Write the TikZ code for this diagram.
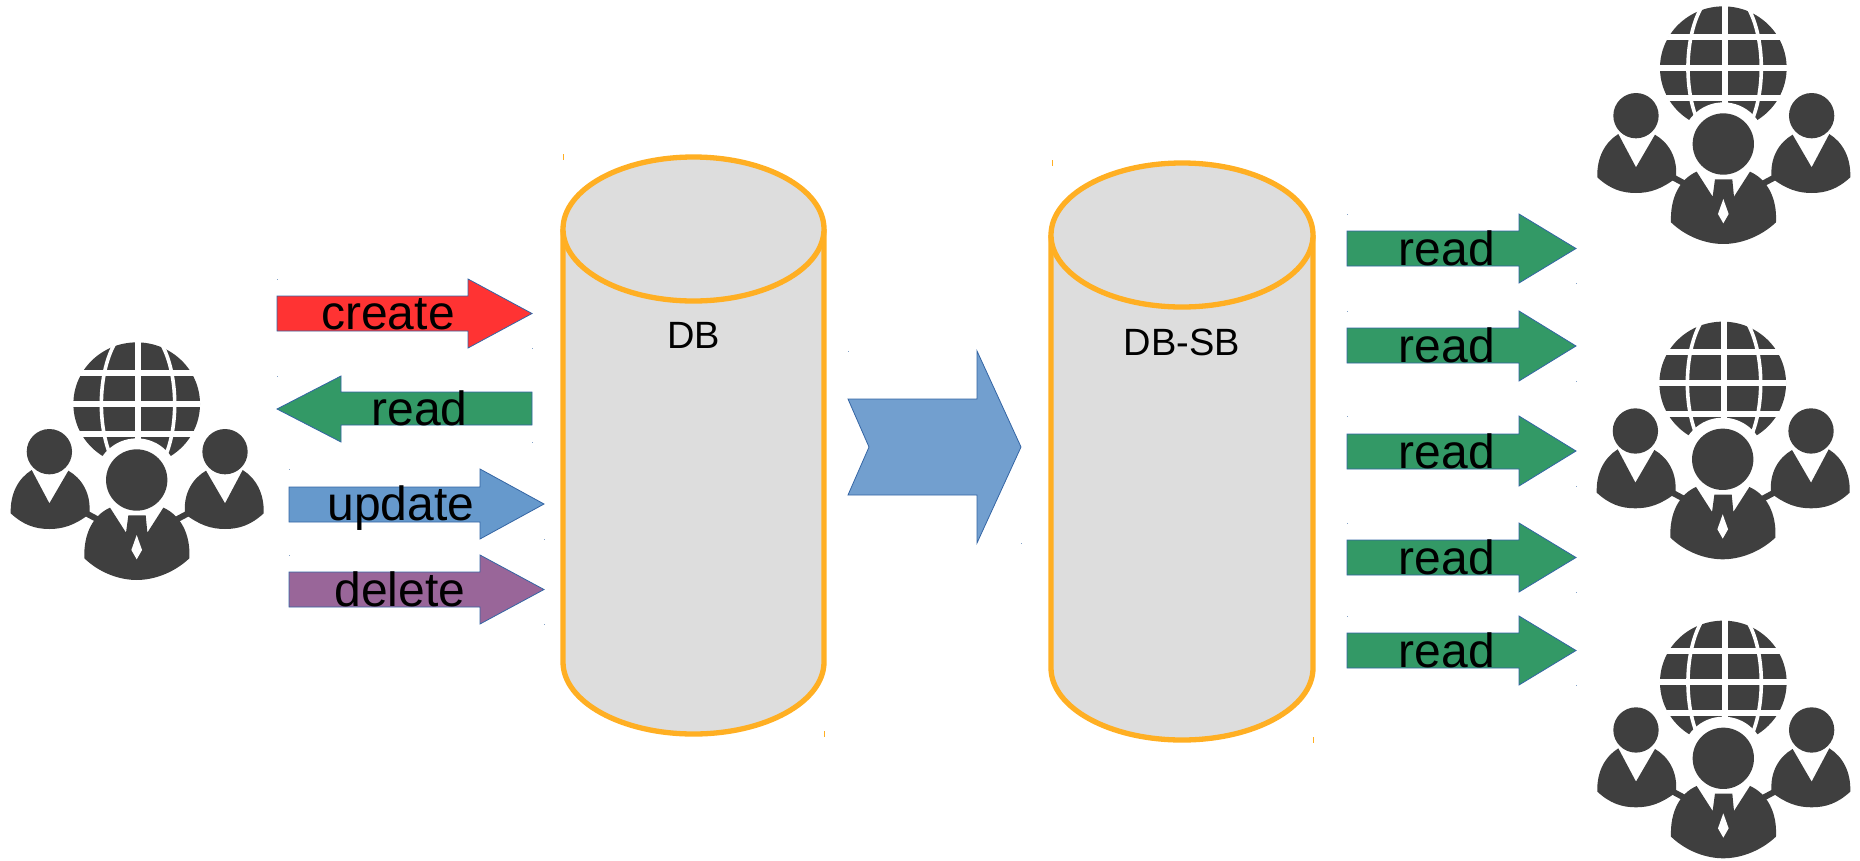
\documentclass[tikz,border=0pt]{standalone}
\usepackage{fontspec}
\setmainfont{Liberation Sans}
\definecolor{cred}{HTML}{FF3333}
\definecolor{cgreen}{HTML}{339966}
\definecolor{cblue}{HTML}{6699CC}
\definecolor{cpurple}{HTML}{996699}
\definecolor{cchev}{HTML}{729FCF}
\definecolor{cline}{HTML}{3465A4}
\definecolor{corange}{HTML}{FFAF23}
\definecolor{cgray}{HTML}{DDDDDD}
\definecolor{cdark}{HTML}{3F3F3F}
\tikzset{
  arrowshape/.style={draw=cline,line width=.8pt,line join=miter},
  arrowlabel/.style={anchor=base,inner sep=0pt,font=\fontsize{48}{50}\selectfont,text=black},
  dblabel/.style={anchor=center,inner sep=0pt,font=\fontsize{38}{40}\selectfont,text=black},
  cylbody/.style={fill=cgray,draw=corange,line width=5.3pt},
  speck/.style={fill=cline,fill opacity=.6},
  ospeck/.style={fill=corange},
  darkfill/.style={fill=cdark,draw=none}
}
% right-pointing arrow: x0 xh x1 headtop shafttop shaftbot headbot colour
\newcommand\rarr[8]{%
  \draw[arrowshape,fill=#8] (#1,#5) -- (#2,#5) -- (#2,#4) -- (#3,{(#4+#7)/2}) -- (#2,#7) -- (#2,#6) -- (#1,#6) -- cycle;
  \fill[speck] (#1-.5,#4-.5) rectangle (#1+.5,#4+.5);
  \fill[speck] (#3-.5,#7-.5) rectangle (#3+.5,#7+.5);
}
\newcommand\sideperson{%
  \fill[darkfill] (148,365) circle[radius=68];
  \fill[darkfill] (95,420) -- (148,520) -- (205,422) .. controls (245,445) and (274,490) .. (268,552)
     .. controls (225,585) and (190,597) .. (148,597) .. controls (105,597) and (70,585) .. (32,550)
     .. controls (30,490) and (55,445) .. (95,420) -- cycle;
  \draw[cdark,line width=6pt] (255,548) -- (300,572);
}
\newcommand\usericon[2]{%
  \begin{scope}[shift={(#1,#2)},x=.3333pt,y=-.3333pt]
    \begin{scope}[shift={(-410,-450)}]
      \fill[darkfill] (410,222) ellipse[x radius=190,y radius=185];
      \begin{scope}
        \clip (410,222) ellipse[x radius=192,y radius=187];
        \draw[white,line width=6pt] (200,128) -- (620,128) (200,220.5) -- (620,220.5) (200,313) -- (620,313) (414,0) -- (414,420);
        \draw[white,line width=3.6pt] (414,222) ellipse[x radius=110,y radius=235];
      \end{scope}
      \fill[white] (410,450) circle[radius=125];
      \sideperson
    \end{scope}
    \begin{scope}[shift={(413,-450)},xscale=-1]
      \sideperson
    \end{scope}
    \begin{scope}[shift={(-410,-450)}]
      \fill[darkfill] (330,533) -- (378,608) -- (385,556) -- (437,556) -- (442,608) -- (490,533)
        .. controls (540,555) and (572,610) .. (568,685) .. controls (520,730) and (460,750) .. (410,750)
        .. controls (360,750) and (300,730) .. (253,685) .. controls (250,610) and (280,555) .. (330,533) -- cycle;
      \fill[white] (410,615) -- (426,660) -- (410,688) -- (394,660) -- cycle;
      \fill[darkfill] (410,450) circle[radius=92];
    \end{scope}
  \end{scope}
}
\begin{document}
\begin{tikzpicture}[x=1pt,y=-1pt]
\useasboundingbox (0,0) rectangle (1860,860);

% icons
\usericon{136.7}{480}
\usericon{1723.3}{144}
\usericon{1722.7}{459.3}
\usericon{1723.3}{758.3}

% left arrows
\rarr{277}{468}{532}{279}{296}{331}{348}{cred}
\node[arrowlabel] (create) at (388,329) {create};

\draw[arrowshape,fill=cgreen] (532,392) -- (341,392) -- (341,376) -- (277,409) -- (341,442) -- (341,425) -- (532,425) -- cycle;
\fill[speck] (276.5,375.5) rectangle (277.5,376.5);
\fill[speck] (531.5,441.5) rectangle (532.5,442.5);
\node[arrowlabel] (readleft) at (419.5,425) {read};

\rarr{289}{480}{544}{469}{487}{522}{539}{cblue}
\node[arrowlabel] (update) at (401,520) {update};

\rarr{289}{480}{544}{555}{572}{607}{624}{cpurple}
\node[arrowlabel] (delete) at (400,606) {delete};

% DB cylinder
\draw[cylbody] (563,229) -- (563,662) arc[start angle=180,end angle=0,x radius=130.5,y radius=72] -- (824,229);
\draw[cylbody] (693.5,229) ellipse[x radius=130.5,y radius=72];
\node[dblabel] (db) at (693.5,335) {DB};
\fill[ospeck] (562.5,154) rectangle (563.5,160);
\fill[ospeck] (824,731) rectangle (825,737);

% chevron arrow
\draw[arrowshape,fill=cchev] (848,399) -- (977,399) -- (977,351) -- (1021,447) -- (977,543) -- (977,495) -- (848,495) -- (869,447) -- cycle;
\fill[speck] (847.5,350.5) rectangle (848.5,351.5);
\fill[speck] (1020.5,542.5) rectangle (1021.5,543.5);

% DB-SB cylinder
\draw[cylbody] (1051,235) -- (1051,668) arc[start angle=180,end angle=0,x radius=131,y radius=72] -- (1313,235);
\draw[cylbody] (1182,235) ellipse[x radius=131,y radius=72];
\node[dblabel] (dbsb) at (1182,342) {DB-SB};
\fill[ospeck] (1051.5,160) rectangle (1052.5,166);
\fill[ospeck] (1313,737) rectangle (1314,743);

% right arrows
\rarr{1347}{1519}{1576}{214}{231}{266}{283}{cgreen}
\node[arrowlabel] (read1) at (1447,265) {read};
\rarr{1347}{1519}{1576}{311}{328}{363}{381}{cgreen}
\node[arrowlabel] (read2) at (1447,362.5) {read};
\rarr{1347}{1519}{1576}{416}{434}{469}{486}{cgreen}
\node[arrowlabel] (read3) at (1447,468) {read};
\rarr{1347}{1519}{1576}{523}{540}{575}{592}{cgreen}
\node[arrowlabel] (read4) at (1447,574) {read};
\rarr{1347}{1519}{1576}{616}{633}{668}{685}{cgreen}
\node[arrowlabel] (read5) at (1447,667) {read};
\end{tikzpicture}
\end{document}
